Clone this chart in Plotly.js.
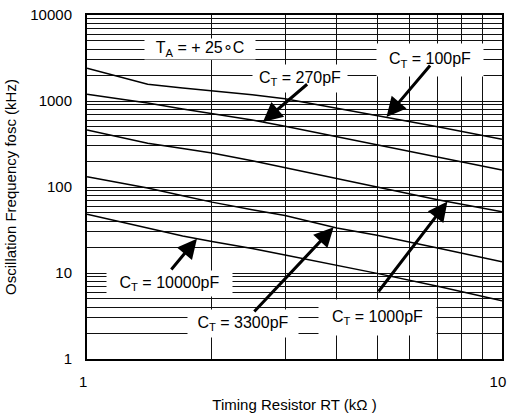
<!DOCTYPE html>
<html>
<head>
<meta charset="utf-8">
<script src="https://cdn.plot.ly/plotly-3.0.1.min.js"></script>
<style>
  html, body { margin: 0; padding: 0; background: #fff; }
  #chart { width: 508px; height: 417px; }
</style>
</head>
<body>
<div id="chart"></div>
<script>
// Timing resistor RT (kΩ)
const rtK = [1, 1.4, 1.7, 2, 2.5, 3, 4, 5, 7, 10];

// Oscillation frequency (kHz) for each timing capacitor
const ct100pF   = [2400, 1568, 1416, 1321, 1181, 1064, 824, 684, 502, 359];
const ct270pF   = [1197, 948, 809, 712, 601, 509, 385, 309, 222, 158];
const ct1000pF  = [460, 323, 280, 249, 202, 168, 126, 100, 71, 51.6];
const ct3300pF  = [132, 97.3, 79.2, 66.7, 54.5, 46.7, 33.4, 27.5, 19.5, 13.5];
const ct10000pF = [48.2, 33.4, 26.9, 23.3, 19.3, 16.2, 12.4, 9.9, 7.0, 4.76];

// Tick labels
const xTicks = [1, 10];
const yTicks = [1, 10, 100, 1000, 10000];

const FONT = 'Liberation Sans, Arial, sans-serif';
const lg = Math.log10;

// minor gridlines at 2..9 of every decade
function minorVals(lo, hi) {
  const out = [];
  for (let d = lo; d < hi; d *= 10) for (let k = 2; k <= 9; k++) out.push(d * k);
  return out;
}

// value of a curve at RT, interpolated on the log-log scale
function valueAt(series, rt) {
  for (let i = 0; i < rtK.length - 1; i++) {
    if (rt >= rtK[i] && rt <= rtK[i + 1]) {
      const t = (lg(rt) - lg(rtK[i])) / (lg(rtK[i + 1]) - lg(rtK[i]));
      return Math.pow(10, lg(series[i]) + t * (lg(series[i + 1]) - lg(series[i])));
    }
  }
  return series[series.length - 1];
}

const curves = [ct100pF, ct270pF, ct1000pF, ct3300pF, ct10000pF];
const traces = curves.map(ys => ({
  x: rtK, y: ys, type: 'scatter', mode: 'lines',
  line: { color: '#000', width: 1.5 },
  hoverinfo: 'skip', showlegend: false
}));

// labels: text, box centre (RT, f), box size
const labels = [
  { text: 'T<sub>A</sub> = + 25∘C',     at: [1.873, 4025], w: 110, h: 20 },
  { text: 'C<sub>T</sub> = 270pF',      at: [3.26, 1850],  w: 94,  h: 27 },
  { text: 'C<sub>T</sub> = 100pF',      at: [6.69, 2998],  w: 106, h: 32 },
  { text: 'C<sub>T</sub> = 10000pF',    at: [1.578, 7.65], w: 125, h: 25 },
  { text: 'C<sub>T</sub> = 3300pF',     at: [2.377, 2.62], w: 110, h: 27 },
  { text: 'C<sub>T</sub> = 1000pF',     at: [5.01, 3.0],   w: 117, h: 35 }
];

// arrows: curve, RT where the head touches the curve, tail (RT, f)
const arrows = [
  { series: ct270pF,   rt: 2.654, tail: [3.42, 1620] },
  { series: ct100pF,   rt: 5.27,  tail: [6.76, 2690] },
  { series: ct10000pF, rt: 1.84,  tail: [1.585, 10.55] },
  { series: ct3300pF,  rt: 3.93,  tail: [2.51, 3.43] },
  { series: ct1000pF,  rt: 7.39,  tail: [5.01, 5.85] }
];

const annotations = [];
labels.forEach(l => annotations.push({
  xref: 'x', yref: 'y', x: lg(l.at[0]), y: lg(l.at[1]),
  text: l.text, showarrow: false,
  bgcolor: '#fff', width: l.w, height: l.h, borderpad: 0,
  font: { family: FONT, size: 16, color: '#000' }
}));
arrows.forEach(a => annotations.push({
  xref: 'x', yref: 'y', axref: 'x', ayref: 'y',
  x: lg(a.rt), y: lg(valueAt(a.series, a.rt)),
  ax: lg(a.tail[0]), ay: lg(a.tail[1]),
  text: '',
  showarrow: true, arrowhead: 2, arrowsize: 1.3, arrowwidth: 3,
  arrowcolor: '#000', standoff: 0, startstandoff: 0
}));

const gridColor = '#111';
const layout = {
  width: 508, height: 417,
  margin: { l: 87, r: 6, t: 15, b: 58 },
  paper_bgcolor: '#fff', plot_bgcolor: '#fff',
  font: { family: FONT, size: 15, color: '#000' },
  showlegend: false,
  xaxis: {
    type: 'log', range: [-0.0002, 1.0002],
    tickvals: xTicks, ticktext: xTicks.map(String),
    ticks: '', ticklabelstandoff: 8, ticklabelshift: -4, ticklabeloverflow: 'allow',
    showgrid: true, gridcolor: gridColor, gridwidth: 1,
    minor: { tickvals: minorVals(1, 10), showgrid: true, gridcolor: gridColor, gridwidth: 1, ticks: '' },
    showline: true, linecolor: '#000', linewidth: 2, mirror: true,
    zeroline: false,
    title: { text: 'Timing Resistor RT (kΩ )', font: { family: FONT, size: 15 }, standoff: 10 }
  },
  yaxis: {
    type: 'log', range: [0, 4],
    tickvals: yTicks, ticktext: yTicks.map(String),
    ticks: '', ticklabelstandoff: 10, ticklabeloverflow: 'allow',
    showgrid: true, gridcolor: gridColor, gridwidth: 1,
    minor: { tickvals: minorVals(1, 10000), showgrid: true, gridcolor: gridColor, gridwidth: 1, ticks: '' },
    showline: true, linecolor: '#000', linewidth: 2, mirror: true,
    zeroline: false,
    title: { text: 'Oscillation Frequency fosc (kHz)', font: { family: FONT, size: 15 }, standoff: 10 }
  },
  annotations: annotations
};

Plotly.newPlot('chart', traces, layout, { staticPlot: true, displayModeBar: false });
</script>
</body>
</html>
